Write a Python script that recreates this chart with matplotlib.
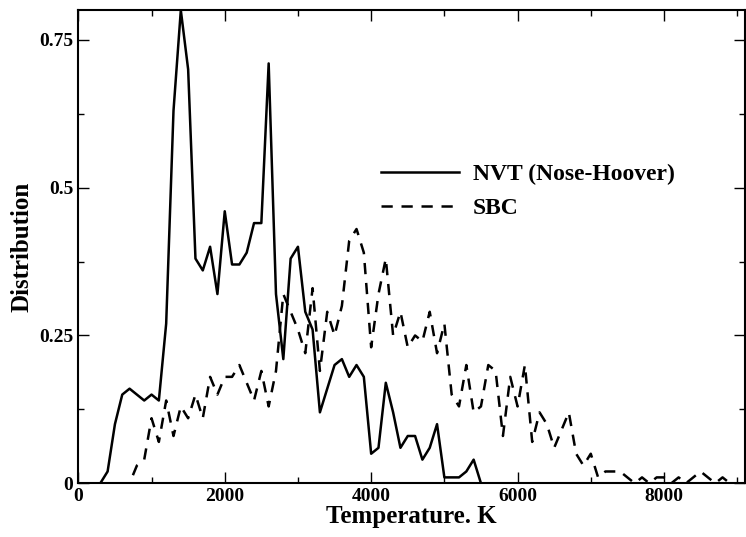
import numpy as np
import matplotlib
matplotlib.use("Agg")
import matplotlib.pyplot as plt

temp = np.arange(0, 9100, 100)
nvt = [0,0,0,0,0.02,0.1,0.15,0.16,0.15,0.14,0.15,0.14,0.27,0.63,0.80,0.70,0.38,0.36,0.40,0.32,
       0.46,0.37,0.37,0.39,0.44,0.44,0.71,0.32,0.21,0.38,0.40,0.29,0.26,0.12,0.16,0.20,0.21,0.18,0.20,0.18,
       0.05,0.06,0.17,0.12,0.06,0.08,0.08,0.04,0.06,0.10,0.01,0.01,0.01,0.02,0.04,0]
nvt = nvt + [0]*(len(temp)-len(nvt))
sbc = [0,0,0,0,0,0,0,0,0.03,0.04,0.11,0.07,0.14,0.08,0.13,0.11,0.15,0.11,0.18,0.15,
       0.18,0.18,0.20,0.17,0.14,0.19,0.13,0.19,0.32,0.29,0.26,0.22,0.33,0.19,0.29,0.25,0.30,0.41,0.43,0.39,
       0.23,0.32,0.38,0.25,0.29,0.23,0.25,0.24,0.29,0.22,0.27,0.15,0.13,0.20,0.12,0.13,0.20,0.19,0.08,0.18,
       0.13,0.20,0.07,0.12,0.10,0.06,0.09,0.12,0.05,0.03,0.05,0.01,0.02,0.02,0.02,0.01,0,0.01,0,0.01,
       0.01,0,0.01,0,0.01,0.02,0.01,0,0.01,0,0]
sbc = sbc + [0]*(len(temp)-len(sbc))

plt.rcParams['font.family'] = ['Liberation Serif', 'DejaVu Serif']
plt.rcParams['font.weight'] = 'bold'
fig = plt.figure(figsize=(7.46, 5.37), dpi=100)
ax = fig.add_axes([0.105, 0.1, 0.893, 0.881])
ax.plot(temp, nvt, color='black', lw=1.8, label='NVT (Nose-Hoover)')
ax.plot(temp, sbc, color='black', lw=1.8, ls=(0, (4.5, 3.5)), label='SBC')
ax.set_xlim(0, 9100)
ax.set_ylim(0, 0.80)
ax.set_xticks([0, 2000, 4000, 6000, 8000])
ax.set_xticks(np.arange(1000, 9100, 2000), minor=True)
ax.set_yticks([0, 0.25, 0.5, 0.75])
ax.set_yticklabels(['0', '0.25', '0.5', '0.75'])
ax.set_yticks([0.125, 0.375, 0.625], minor=True)
ax.tick_params(which='both', direction='in', top=True, right=True, labelsize=14, width=1)
ax.tick_params(which='major', length=8)
ax.tick_params(which='minor', length=4)
for lab in ax.get_xticklabels() + ax.get_yticklabels():
    lab.set_fontweight('bold')
for s in ax.spines.values():
    s.set_linewidth(1.5)
ax.set_xlabel('Temperature. K', fontsize=18, fontweight='bold', labelpad=0)
ax.set_ylabel('Distribution', fontsize=18, fontweight='bold', labelpad=4)
ax.legend(loc='upper left', bbox_to_anchor=(0.422, 0.72), frameon=False,
          handlelength=3.3, handletextpad=0.6, labelspacing=0.5,
          prop={'weight': 'bold', 'size': 17})
fig.savefig('out.png', dpi=100)
